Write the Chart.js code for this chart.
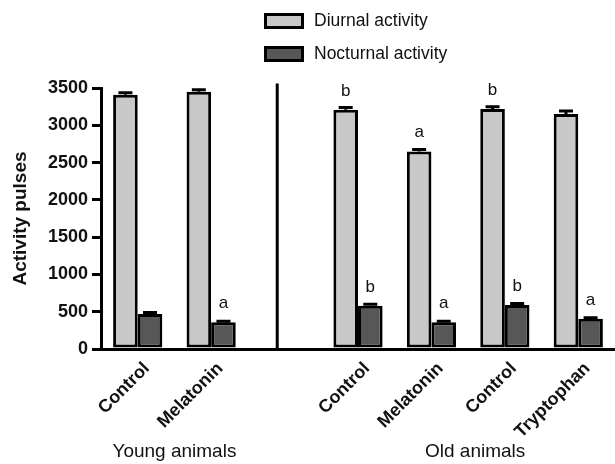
<!DOCTYPE html>
<html>
<head>
<meta charset="utf-8">
<script src="https://cdn.jsdelivr.net/npm/chart.js@4/dist/chart.umd.min.js"></script>
<style>
  html, body { margin: 0; padding: 0; background: #fff; }
  #c { display: block; }
</style>
</head>
<body>
<canvas id="c" width="615" height="464"></canvas>
<script>
// Categories (the empty slot separates young from old animals)
const categories = ['Control', 'Melatonin', '', 'Control', 'Melatonin', 'Control', 'Tryptophan'];

// Activity pulses per treatment
const diurnal = [3410, 3450, null, 3210, 2650, 3220, 3150];
const diurnalErr = [25, 25, null, 28, 25, 30, 40];
const nocturnal = [470, 360, null, 580, 360, 590, 405];
const nocturnalErr = [18, 12, null, 20, 12, 20, 15];

// Significance letters above each bar
const diurnalMarks = ['', '', '', 'b', 'a', 'b', ''];
const nocturnalMarks = ['', 'a', '', 'b', 'a', 'b', 'a'];

// Group captions under the axis (category index ranges)
const groupNames = ['Young animals', 'Old animals'];
const groupFrom = [0, 3];
const groupTo = [1, 6];

// Y axis
const yMax = 3500;
const yStep = 500;

const FONT = '"Liberation Sans", Arial, Helvetica, sans-serif';

const seriesNames = ['Diurnal activity', 'Nocturnal activity'];
const seriesFill = ['#c8c8c8', '#575757'];
const errors = [diurnalErr, nocturnalErr];
const marks = [diurnalMarks, nocturnalMarks];

const extras = {
  id: 'extras',
  afterDatasetsDraw(chart) {
    const ctx = chart.ctx;
    const y = chart.scales.y;
    const x = chart.scales.x;
    const area = chart.chartArea;
    ctx.save();

    // error bars (upper half only)
    ctx.strokeStyle = '#000';
    ctx.lineWidth = 3;
    chart.data.datasets.forEach((ds, di) => {
      const meta = chart.getDatasetMeta(di);
      meta.data.forEach((bar, i) => {
        const v = ds.data[i];
        if (v == null) return;
        const e = errors[di][i];
        const yt = y.getPixelForValue(v + e);
        ctx.beginPath();
        ctx.moveTo(bar.x, bar.y);
        ctx.lineTo(bar.x, yt);
        ctx.moveTo(bar.x - 7, yt);
        ctx.lineTo(bar.x + 7, yt);
        ctx.stroke();
      });
    });

    // significance letters
    ctx.fillStyle = '#111';
    ctx.font = '17px ' + FONT;
    ctx.textAlign = 'center';
    ctx.textBaseline = 'alphabetic';
    chart.data.datasets.forEach((ds, di) => {
      const meta = chart.getDatasetMeta(di);
      meta.data.forEach((bar, i) => {
        const m = marks[di][i];
        if (!m) return;
        ctx.fillText(m, bar.x, bar.y - 14);
      });
    });

    // divider between the two age groups
    ctx.beginPath();
    ctx.lineWidth = 3;
    const dx = x.getPixelForValue(1.9);
    ctx.moveTo(dx, y.getPixelForValue(3560));
    ctx.lineTo(dx, area.bottom);
    ctx.stroke();

    // group captions
    ctx.font = '19px ' + FONT;
    ctx.fillStyle = '#111';
    ctx.textBaseline = 'middle';
    groupNames.forEach((name, g) => {
      const cx = (x.getPixelForValue(groupFrom[g]) + x.getPixelForValue(groupTo[g])) / 2;
      ctx.fillText(name, cx + g * 7, 452);
    });

    // legend, stacked vertically
    ctx.textAlign = 'left';
    ctx.font = '17.5px ' + FONT;
    seriesNames.forEach((name, k) => {
      const top = 13 + k * 33;
      ctx.fillStyle = seriesFill[k];
      ctx.fillRect(264, top, 40, 16);
      ctx.strokeStyle = '#000';
      ctx.lineWidth = 3;
      ctx.strokeRect(265.5, top + 1.5, 37, 13);
      ctx.fillStyle = '#111';
      ctx.fillText(name, 314, top + 8);
    });
    ctx.restore();
  }
};

new Chart(document.getElementById('c'), {
  type: 'bar',
  data: {
    labels: categories,
    datasets: [
      {
        label: seriesNames[0],
        data: diurnal,
        backgroundColor: seriesFill[0],
        borderColor: '#000',
        borderWidth: 3,
        borderSkipped: false
      },
      {
        label: seriesNames[1],
        data: nocturnal,
        backgroundColor: seriesFill[1],
        borderColor: '#000',
        borderWidth: 3,
        borderSkipped: false
      }
    ]
  },
  options: {
    responsive: false,
    animation: false,
    devicePixelRatio: 1,
    categoryPercentage: 0.67,
    barPercentage: 1,
    layout: { padding: { top: 88, left: 0, right: 0, bottom: 0 } },
    plugins: {
      legend: { display: false },
      tooltip: { enabled: false }
    },
    scales: {
      x: {
        afterFit(s) { s.height = 115; },
        grid: { display: true, drawOnChartArea: false, drawTicks: false },
        border: { display: true, color: '#000', width: 3 },
        ticks: {
          minRotation: 45,
          maxRotation: 45,
          autoSkip: false,
          padding: 9,
          labelOffset: 9,
          color: '#111',
          font: { family: FONT, size: 18, weight: 'bold' }
        }
      },
      y: {
        min: 0,
        max: yMax,
        afterFit(s) { s.width = 101; },
        grid: { display: true, drawOnChartArea: false, drawTicks: true, tickLength: 9, color: '#000', lineWidth: 3 },
        border: { display: true, color: '#000', width: 3 },
        ticks: {
          stepSize: yStep,
          padding: 4,
          color: '#111',
          font: { family: FONT, size: 18, weight: 'bold' },
          callback: (v) => String(v)
        },
        title: {
          display: true,
          text: 'Activity pulses',
          color: '#111',
          padding: { top: 9, bottom: 0 },
          font: { family: FONT, size: 19, weight: 'bold' }
        }
      }
    }
  },
  plugins: [extras]
});
</script>
</body>
</html>
